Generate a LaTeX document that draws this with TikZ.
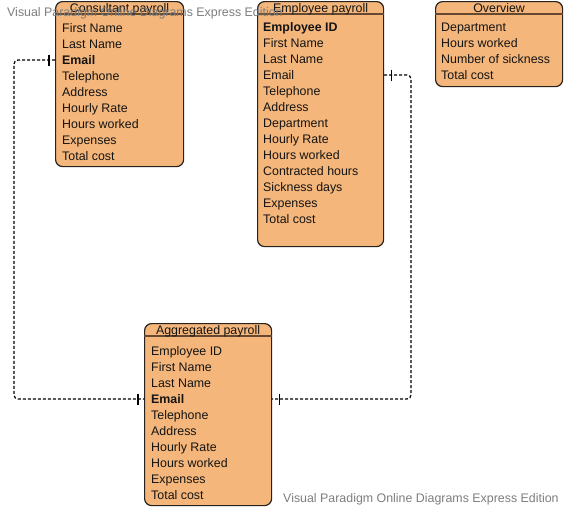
\documentclass[tikz,border=0pt]{standalone}
\usepackage{fontspec}
\setmainfont{Liberation Sans}
\definecolor{boxfill}{RGB}{244,182,122}
\definecolor{boxline}{RGB}{40,34,30}
\definecolor{hdrline}{RGB}{100,72,48}
\definecolor{wmark}{RGB}{125,125,125}
\definecolor{txt}{RGB}{20,20,20}
\tikzset{
  entbox/.style={draw=boxline, fill=boxfill, line width=1.2pt, rounded corners=7pt, anchor=north west, inner sep=0pt},
  hdrsep/.style={draw=hdrline, line width=1.1pt},
  rowtext/.style={anchor=west, inner sep=0pt, text=txt, font=\fontsize{12.4}{15}\selectfont, text height=8.9pt, text depth=0pt},
  hdrtext/.style={anchor=center, inner sep=0pt, text=txt, font=\fontsize{12.4}{15}\selectfont, text height=8.9pt, text depth=0pt},
  conn/.style={draw=black, line width=1.2pt, dash pattern=on 3pt off 2pt, rounded corners=4pt},
  tickmark/.style={draw=black, line width=1.3pt},
  wmtext/.style={anchor=west, inner sep=0pt, text=wmark, font=\fontsize{12.4}{15}\selectfont, text height=8.9pt, text depth=0pt}
}
\begin{document}
\begin{tikzpicture}[x=1pt, y=-1pt]
\useasboundingbox (0,0) rectangle (565,509);

% Consultant payroll
\node[entbox, minimum width=128pt, minimum height=165pt] (cons) at (55,1) {};
\draw[hdrsep] ([yshift=-13pt]cons.north west) -- ([yshift=-13pt]cons.north east);
\node[hdrtext] (consh) at ([yshift=-7pt]cons.north) {Consultant payroll};
\foreach \t [count=\i] in {First Name, Last Name, \textbf{Email}, Telephone, Address, Hourly Rate, Hours worked, Expenses, Total cost}
  \node[rowtext] (c\i) at (62,{28+16*(\i-1)}) {\t};

% Employee payroll
\node[entbox, minimum width=126pt, minimum height=245pt] (emp) at (257,1) {};
\draw[hdrsep] ([yshift=-13pt]emp.north west) -- ([yshift=-13pt]emp.north east);
\node[hdrtext] (emph) at ([yshift=-7pt]emp.north) {Employee payroll};
\foreach \t [count=\i] in {\textbf{Employee ID}, First Name, Last Name, Email, Telephone, Address, Department, Hourly Rate, Hours worked, Contracted hours, Sickness days, Expenses, Total cost}
  \node[rowtext] (e\i) at (263,{27+16*(\i-1)}) {\t};

% Overview
\node[entbox, minimum width=127pt, minimum height=85pt] (over) at (435,1) {};
\draw[hdrsep] ([yshift=-13pt]over.north west) -- ([yshift=-13pt]over.north east);
\node[hdrtext] (overh) at ([yshift=-7pt]over.north) {Overview};
\foreach \t [count=\i] in {Department, Hours worked, Number of sickness, Total cost}
  \node[rowtext] (o\i) at (441,{27+16*(\i-1)}) {\t};

% Aggregated payroll
\node[entbox, minimum width=127pt, minimum height=182pt] (agg) at (144,323) {};
\draw[hdrsep] ([yshift=-13pt]agg.north west) -- ([yshift=-13pt]agg.north east);
\node[hdrtext] (aggh) at ([yshift=-7pt]agg.north) {Aggregated payroll};
\foreach \t [count=\i] in {Employee ID, First Name, Last Name, \textbf{Email}, Telephone, Address, Hourly Rate, Hours worked, Expenses, Total cost}
  \node[rowtext] (a\i) at (151,{351+16*(\i-1)}) {\t};

% connectors
\coordinate (lbend) at (14,0);
\coordinate (rbend) at (411,0);
\draw[conn] (cons.west |- c3) -| (lbend |- a4) -- (agg.west |- a4);
\draw[conn] (emp.east |- e4) -| (rbend |- a4) -- (agg.east |- a4);
% one-marks
\draw[tickmark] ([xshift=-6pt,yshift=5.5pt]cons.west |- c3) -- ([xshift=-6pt,yshift=-5.5pt]cons.west |- c3);
\draw[tickmark] ([xshift=-6pt,yshift=5.5pt]agg.west |- a4) -- ([xshift=-6pt,yshift=-5.5pt]agg.west |- a4);
\draw[tickmark] ([xshift=7pt,yshift=5.5pt]emp.east |- e4) -- ([xshift=7pt,yshift=-5.5pt]emp.east |- e4);
\draw[tickmark] ([xshift=7pt,yshift=5.5pt]agg.east |- a4) -- ([xshift=7pt,yshift=-5.5pt]agg.east |- a4);

% watermarks
\node[wmtext] (wm1) at (7,12) {Visual Paradigm Online Diagrams Express Edition};
\node[wmtext] (wm2) at (283,498) {Visual Paradigm Online Diagrams Express Edition};
\end{tikzpicture}
\end{document}
